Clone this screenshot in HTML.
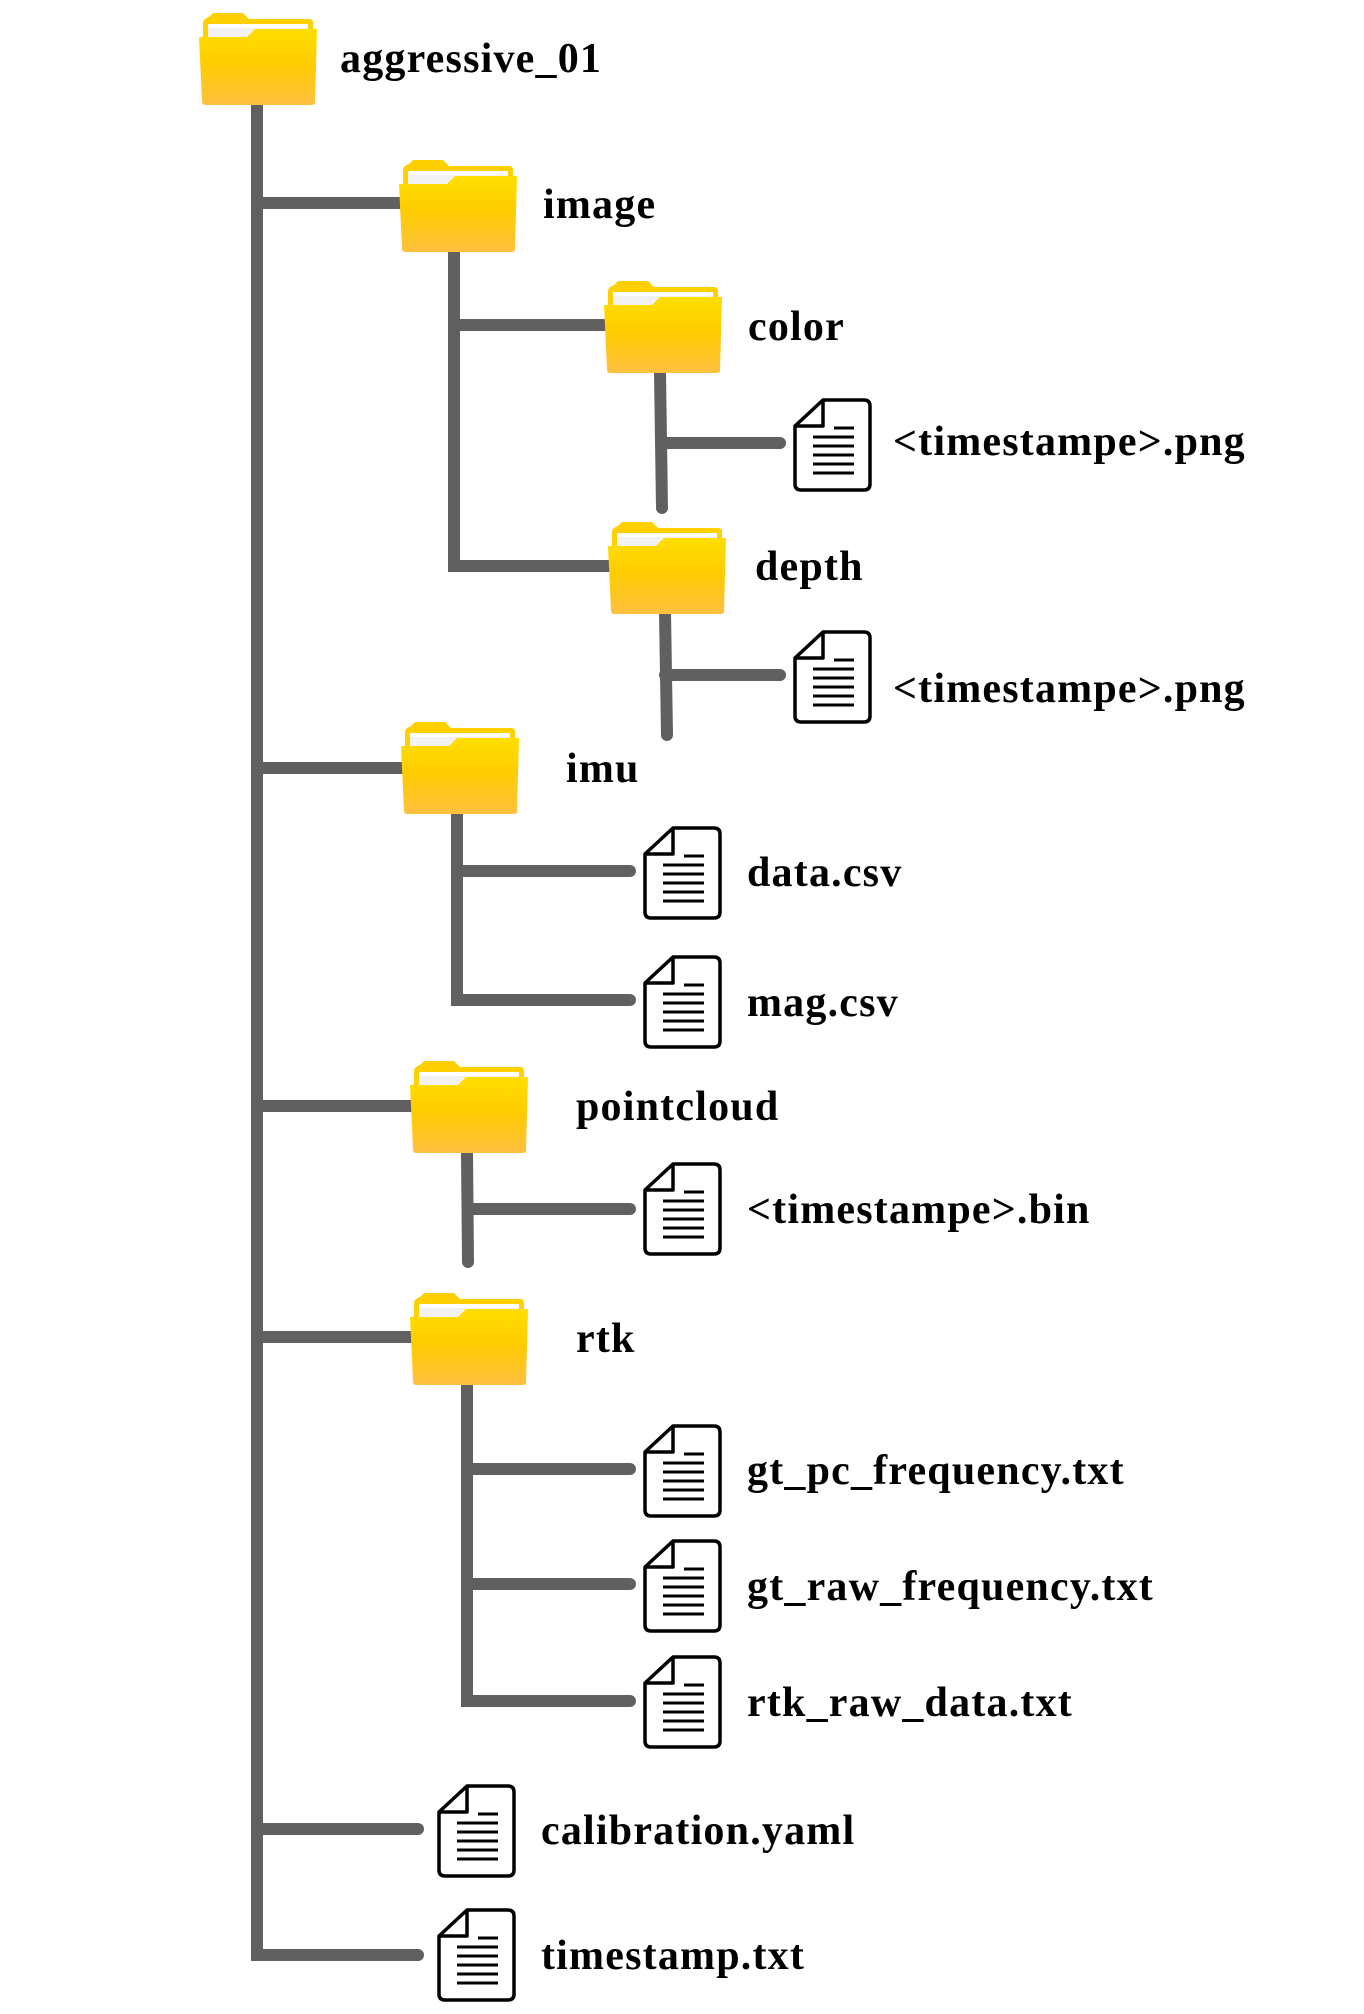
<!DOCTYPE html>
<html><head><meta charset="utf-8"><style>
html,body{margin:0;padding:0;background:#fff;}
svg{display:block}
text{font-family:"Liberation Serif",serif;font-weight:bold;font-size:42px;letter-spacing:1.2px;fill:#000}
</style></head><body>
<svg width="1364" height="2014" viewBox="0 0 1364 2014" xmlns="http://www.w3.org/2000/svg">
<defs>
<linearGradient id="fg" x1="0" y1="0" x2="0" y2="1">
<stop offset="0" stop-color="#ffdf00"/><stop offset="0.45" stop-color="#ffcc00"/><stop offset="1" stop-color="#ffc040"/>
</linearGradient>
<g id="folder">
<path d="M4,26 L4,10 Q4,6 10,4 L14,0 L44,0 L50,6 L110,6 Q114,6 114,10 L114,26 Z" fill="#ffd000"/>
<rect x="9" y="11" width="100" height="16" fill="#f2f2f2"/>
<rect x="9" y="11" width="100" height="4" fill="#fff"/>
<path d="M0,24 L48,24 L56,16 L118,16 L116,90 Q116,92 112,92 L6,92 Q3,92 3,88 Z" fill="url(#fg)"/>
</g>
<g id="file" fill="none" stroke="#000" stroke-width="3.5" stroke-linejoin="round">
<path d="M30,2 L71,2 Q77,2 77,8 L77,86 Q77,92 71,92 L8,92 Q2,92 2,86 L2,28 Z"/>
<path d="M2,28 L30,28 L30,2"/>
<path d="M41,30 L61,30 M20,39 L61,39 M20,48 L61,48 M20,57 L61,57 M20,66 L61,66 M20,75 L61,75" stroke-width="3"/>
</g>
</defs>
<g stroke="#606060" stroke-width="12" stroke-linecap="round" fill="none">
<path d="M257,100 L257,1955 L418,1955 M257,1829 L418,1829 M257,203 L405,203 M257,768 L405,768 M257,1106 L415,1106 M257,1337 L415,1337"/>
<path d="M454,251 L454,566 L612,566 M454,325 L608,325"/>
<path d="M660,373 L662,508 M662,443 L780,443"/>
<path d="M665,613 L667,735 M665,675 L780,675"/>
<path d="M457,813 L457,1000 L630,1000 M457,871 L630,871"/>
<path d="M467,1154 L468,1262 M468,1209 L630,1209"/>
<path d="M467,1384 L467,1701 L630,1701 M467,1469 L630,1469 M467,1584 L630,1584"/>
</g>
<use href="#folder" x="199" y="13"/>
<use href="#folder" x="399" y="160"/>
<use href="#folder" x="604" y="281"/>
<use href="#folder" x="608" y="522"/>
<use href="#folder" x="401" y="722"/>
<use href="#folder" x="410" y="1061"/>
<use href="#folder" x="410" y="1293"/>
<use href="#file" x="793" y="398"/>
<use href="#file" x="793" y="630"/>
<use href="#file" x="643" y="826"/>
<use href="#file" x="643" y="955"/>
<use href="#file" x="643" y="1162"/>
<use href="#file" x="643" y="1424"/>
<use href="#file" x="643" y="1539"/>
<use href="#file" x="643" y="1655"/>
<use href="#file" x="437" y="1784"/>
<use href="#file" x="437" y="1908"/>
<text x="340" y="72">aggressive_01</text>
<text x="543" y="218">image</text>
<text x="748" y="340">color</text>
<text x="893" y="455">&lt;timestampe&gt;.png</text>
<text x="755" y="580">depth</text>
<text x="893" y="702">&lt;timestampe&gt;.png</text>
<text x="566" y="782">imu</text>
<text x="747" y="886">data.csv</text>
<text x="747" y="1016">mag.csv</text>
<text x="576" y="1120">pointcloud</text>
<text x="747" y="1223">&lt;timestampe&gt;.bin</text>
<text x="576" y="1352">rtk</text>
<text x="747" y="1484">gt_pc_frequency.txt</text>
<text x="747" y="1600">gt_raw_frequency.txt</text>
<text x="747" y="1716">rtk_raw_data.txt</text>
<text x="541" y="1844">calibration.yaml</text>
<text x="541" y="1969">timestamp.txt</text>
</svg>
</body></html>
